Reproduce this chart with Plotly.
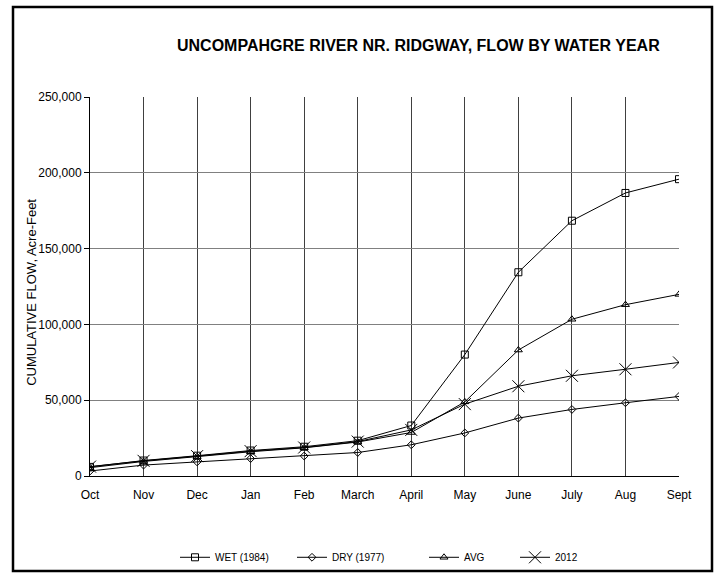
import plotly.graph_objects as go

months = ["Oct", "Nov", "Dec", "Jan", "Feb", "March", "April", "May", "June", "July", "Aug", "Sept"]
wet_1984 = [6000, 10200, 13400, 16800, 19300, 23300, 33300, 80100, 134400, 168400, 186700, 195800]
dry_1977 = [3300, 7200, 9300, 11500, 13200, 15500, 20600, 28400, 38200, 43900, 48300, 52500]
avg_flow = [5500, 9600, 12800, 16000, 18600, 22400, 28700, 48900, 83100, 103400, 113000, 119800]
y2012 = [6200, 10000, 13100, 16400, 18800, 22700, 30400, 47400, 59200, 66100, 70400, 74900]
y_ticks = [0, 50000, 100000, 150000, 200000, 250000]

W, H = 716, 584
L, R, T, B = 90, 37, 97, 100
pw, ph = W - L - R, H - T - B

def px_x(x):
    return (x - L) / pw

def px_y(y):
    return (H - B - y) / ph

series = [
    ("WET (1984)", wet_1984, "square-open", 7, "legend"),
    ("DRY (1977)", dry_1977, "diamond-open", 6, "legend2"),
    ("AVG", avg_flow, "triangle-up-open", 7, "legend3"),
    ("2012", y2012, "x-thin-open", 12, "legend4"),
]

fig = go.Figure()
for name, vals, sym, sz, lg in series:
    fig.add_trace(go.Scatter(
        x=months, y=vals, name=name, mode="lines+markers",
        line=dict(color="black", width=1),
        marker=dict(symbol=sym, size=sz, color="black",
                    line=dict(color="black", width=1)),
        legend=lg,
    ))

legend_font = dict(family="Liberation Sans Narrow, Liberation Sans, Arial", size=10, color="black")
legend_text_x = [217, 334, 466, 557]
legends = {}
for i, tx in enumerate(legend_text_x):
    key = "legend" if i == 0 else f"legend{i+1}"
    legends[key] = dict(
        x=px_x(tx - 42), y=px_y(567), xanchor="left", yanchor="middle",
        orientation="h", font=legend_font, bgcolor="rgba(0,0,0,0)",
        itemwidth=30, tracegroupgap=0,
    )

fig.update_layout(
    width=W, height=H,
    margin=dict(l=L, r=R, t=T, b=B),
    paper_bgcolor="white", plot_bgcolor="white",
    font=dict(family="Liberation Sans, Arial", size=12, color="black"),
    showlegend=True,
    **legends,
    xaxis=dict(
        type="category", range=[0, 11], showgrid=True, gridcolor="#404040", gridwidth=1,
        showline=True, linecolor="black", linewidth=1, ticks="", zeroline=False,
        tickfont=dict(family="Liberation Sans, Arial", size=12, color="black"),
        ticklabelstandoff=8, fixedrange=True,
    ),
    yaxis=dict(
        range=[0, 250000], tickvals=y_ticks, tickformat=",", showgrid=True,
        gridcolor="#808080", gridwidth=1, showline=True, linecolor="black", linewidth=1,
        ticks="outside", ticklen=5, tickcolor="black", zeroline=False,
        tickfont=dict(family="Liberation Sans, Arial", size=12, color="black"),
    ),
    shapes=[dict(
        type="rect", xref="paper", yref="paper",
        x0=px_x(13), x1=px_x(712), y0=px_y(581), y1=px_y(5),
        line=dict(color="black", width=2.5), fillcolor="rgba(0,0,0,0)", layer="above",
    )],
    annotations=[
        dict(text="<b>UNCOMPAHGRE RIVER NR. RIDGWAY, FLOW BY WATER YEAR</b>",
             xref="paper", yref="paper", x=px_x(418), y=px_y(44),
             xanchor="center", yanchor="middle", showarrow=False,
             font=dict(family="Liberation Sans Narrow, Liberation Sans, Arial", size=16, color="black")),
        dict(text="CUMULATIVE FLOW, Acre-Feet", xref="paper", yref="paper",
             x=px_x(32), y=px_y(297), xanchor="center", yanchor="middle",
             textangle=-90, showarrow=False,
             font=dict(family="Liberation Sans, Arial", size=13, color="black")),
    ],
)

fig.write_html("out.html", config={"displayModeBar": False},
               post_script="document.body.style.margin='0';document.body.style.overflow='hidden';")
